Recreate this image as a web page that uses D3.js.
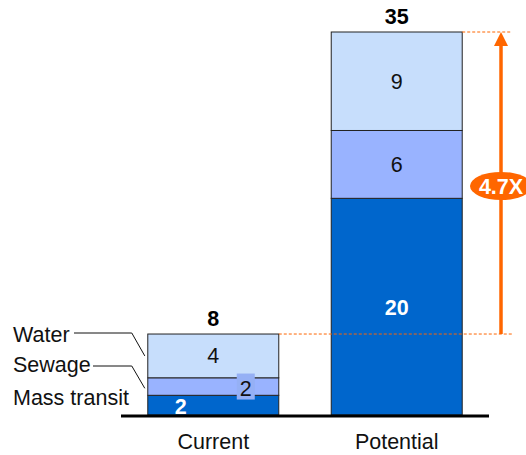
<!DOCTYPE html>
<html>
<head>
<meta charset="utf-8">
<script src="https://cdn.jsdelivr.net/npm/d3@7"></script>
<style>
  html, body { margin: 0; padding: 0; background: #fff; }
  svg { display: block; font-family: "Liberation Sans", Arial, sans-serif; }
</style>
</head>
<body>
<svg id="chart" width="526" height="455"></svg>
<script>
// ---- data ----
const categories = ["Current", "Potential"];
const seriesNames = ["Mass transit", "Sewage", "Water"];
const massTransit = [1.8, 19.8];
const sewage = [1.6, 6.2];
const water = [4.0, 9.0];
const massLabels = ["2", "20"];
const sewageLabels = ["2", "6"];
const waterLabels = ["4", "9"];
const totalLabels = ["8", "35"];
const multipleLabel = "4.7X";

const colors = { "Mass transit": "#0066cc", "Sewage": "#99b3ff", "Water": "#c7defc" };
const orange = "#ff6600";
const FS = 21.5;

const svg = d3.select("#chart");
const baseY = 415;

const x = d3.scaleBand().domain(categories).range([121, 489])
  .paddingInner(0.286).paddingOuter(0.146);
const y = d3.scaleLinear().domain([0, 35]).range([baseY, 32]);

const rows = categories.map((c, i) => ({
  cat: c, "Mass transit": massTransit[i], "Sewage": sewage[i], "Water": water[i]
}));
const stack = d3.stack().keys(seriesNames)(rows);

// bars
const g = svg.append("g");
stack.forEach(layer => {
  g.selectAll(null).data(layer).enter().append("rect")
    .attr("x", d => x(d.data.cat))
    .attr("y", d => y(d[1]))
    .attr("width", x.bandwidth())
    .attr("height", d => y(d[0]) - y(d[1]))
    .attr("fill", colors[layer.key])
    .attr("stroke", "#222")
    .attr("stroke-width", 1);
});

// axis baseline
svg.append("line")
  .attr("x1", x.range()[0]).attr("x2", x.range()[1])
  .attr("y1", baseY + 1).attr("y2", baseY + 1)
  .attr("stroke", "#000").attr("stroke-width", 3);

// category labels
svg.selectAll(".cat").data(categories).enter().append("text")
  .attr("x", d => x(d) + x.bandwidth() / 2)
  .attr("y", 449)
  .attr("text-anchor", "middle")
  .attr("font-size", FS)
  .attr("fill", "#111")
  .text(d => d);

const totals = categories.map((c, i) => massTransit[i] + sewage[i] + water[i]);

// totals
svg.selectAll(".tot").data(categories).enter().append("text")
  .attr("x", d => x(d) + x.bandwidth() / 2)
  .attr("y", (d, i) => y(totals[i]) - 8)
  .attr("text-anchor", "middle")
  .attr("font-size", FS)
  .attr("font-weight", "bold")
  .attr("fill", "#000")
  .text((d, i) => totalLabels[i]);

// Potential segment labels (centered)
const pi = 1, pc = categories[pi];
const cx = x(pc) + x.bandwidth() / 2;
const addLbl = (xx, yy, txt, col, bold) => svg.append("text")
  .attr("x", xx).attr("y", yy).attr("text-anchor", "middle")
  .attr("font-size", FS).attr("font-weight", bold ? "bold" : "normal")
  .attr("fill", col).text(txt);

addLbl(cx, (y(0) + y(massTransit[pi])) / 2 + 8, massLabels[pi], "#fff", true);
addLbl(cx, (y(massTransit[pi]) + y(massTransit[pi] + sewage[pi])) / 2 + 8, sewageLabels[pi], "#111", false);
addLbl(cx, (y(massTransit[pi] + sewage[pi]) + y(totals[pi])) / 2 + 8, waterLabels[pi], "#111", false);

// Current segment labels
const ci = 0, cc = categories[ci];
const ccx = x(cc) + x.bandwidth() / 2;
addLbl(ccx, (y(massTransit[ci] + sewage[ci]) + y(totals[ci])) / 2 + 7, waterLabels[ci], "#111", false);
// mass transit label near left, at baseline
addLbl(x(cc) + 33, baseY - 1, massLabels[ci], "#fff", true);
// sewage label in a small box near right
const sbx = x(cc) + x.bandwidth() - 33;
const sby = y(massTransit[ci] + sewage[ci] / 2);
svg.append("rect")
  .attr("x", sbx - 9).attr("y", sby - 13)
  .attr("width", 18).attr("height", 26)
  .attr("fill", "#95b0f5");
addLbl(sbx, sby + 9, sewageLabels[ci], "#111", false);

// legend labels with leader lines
const left = x(cc);
const legend = [
  { name: "Water", ty: 342, ly: 333, tx2: 74, ey: y(massTransit[ci] + sewage[ci] + water[ci] * 0.5) },
  { name: "Sewage", ty: 372, ly: 366, tx2: 93, ey: y(massTransit[ci] + sewage[ci] * 0.4) },
  { name: "Mass transit", ty: 405, ly: null }
];
legend.forEach(l => {
  svg.append("text").attr("x", 13).attr("y", l.ty)
    .attr("font-size", FS).attr("fill", "#111").text(l.name);
  if (l.ly !== null) {
    svg.append("polyline")
      .attr("points", `${l.tx2},${l.ly} ${left - 16},${l.ly} ${left - 3},${l.ey}`)
      .attr("fill", "none").attr("stroke", "#111").attr("stroke-width", 1);
  }
});

// growth annotation
const ax = 501;
const yTop = y(totals[pi]);
const yLow = y(totals[ci]);
svg.append("line").attr("x1", x(cc) + x.bandwidth()).attr("x2", 512)
  .attr("y1", yLow).attr("y2", yLow)
  .attr("stroke", orange).attr("stroke-width", 1).attr("stroke-dasharray", "3,2");
svg.append("line").attr("x1", x(pc) + x.bandwidth()).attr("x2", 512)
  .attr("y1", yTop).attr("y2", yTop)
  .attr("stroke", orange).attr("stroke-width", 1).attr("stroke-dasharray", "3,2");
svg.append("line").attr("x1", ax).attr("x2", ax)
  .attr("y1", yLow).attr("y2", yTop + 12)
  .attr("stroke", orange).attr("stroke-width", 3.5);
svg.append("path")
  .attr("d", `M${ax},${yTop} L${ax - 7},${yTop + 14} L${ax + 7},${yTop + 14} Z`)
  .attr("fill", orange);
const ey = (yTop + yLow) / 2 + 3;
svg.append("ellipse").attr("cx", ax).attr("cy", ey).attr("rx", 31).attr("ry", 14)
  .attr("fill", orange);
svg.append("text").attr("x", ax).attr("y", ey + 8).attr("text-anchor", "middle")
  .attr("font-size", 21.5).attr("font-weight", "bold").attr("fill", "#fff")
  .text(multipleLabel);
</script>
</body>
</html>
